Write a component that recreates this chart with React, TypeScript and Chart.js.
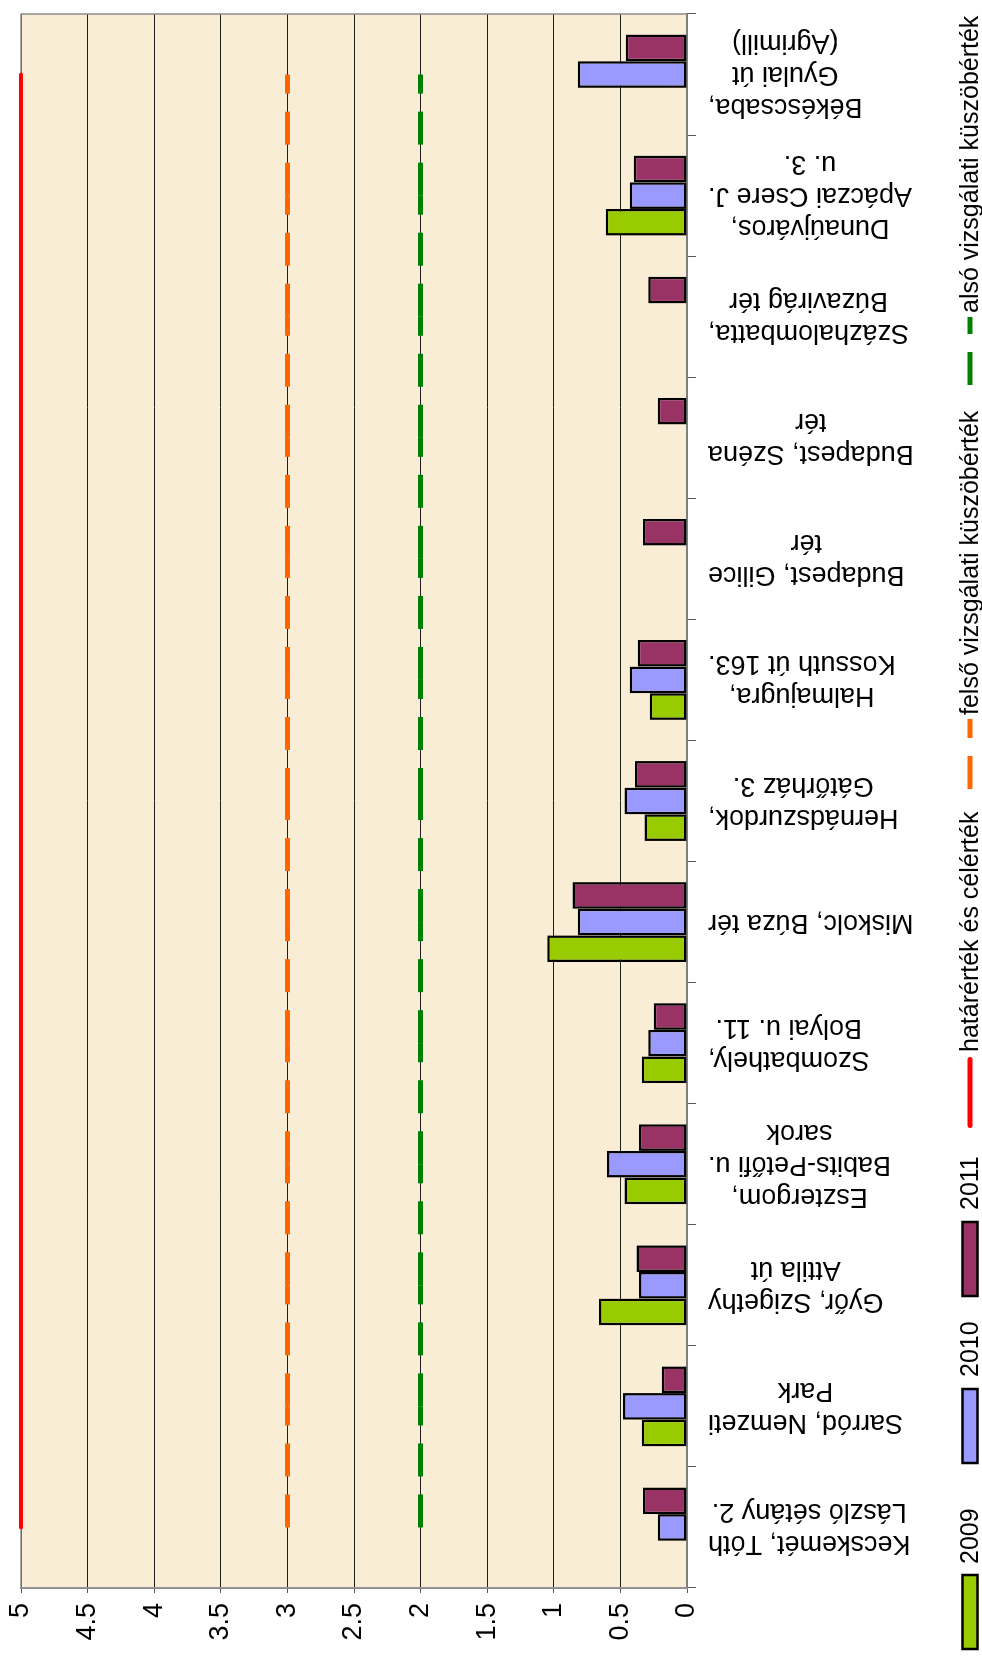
import React, { useEffect, useRef } from "react";
import { Chart, registerables } from "chart.js";

Chart.register(...registerables);

// ---- data ----
const categories: string[][] = [
  ["Kecskemét, Tóth", "László sétány 2."],
  ["Sarród, Nemzeti", "Park"],
  ["Győr, Szigethy", "Attila út"],
  ["Esztergom,", "Babits-Petőfi u.", "sarok"],
  ["Szombathely,", "Bolyai u. 11."],
  ["Miskolc, Búza tér"],
  ["Hernádszurdok,", "Gátőrház 3."],
  ["Halmajugra,", "Kossuth út 163."],
  ["Budapest, Gilice", "tér"],
  ["Budapest, Széna", "tér"],
  ["Százhalombatta,", "Búzavirág tér"],
  ["Dunaújváros,", "Apáczai Csere J.", "u. 3."],
  ["Békéscsaba,", "Gyulai út", "(Agrimill)"],
];

const series2009: (number | null)[] = [null, 0.34, 0.66, 0.47, 0.34, 1.05, 0.32, 0.28, null, null, null, 0.61, null];
const series2010: (number | null)[] = [0.22, 0.48, 0.36, 0.6, 0.29, 0.82, 0.47, 0.43, null, null, null, 0.43, 0.82];
const series2011: (number | null)[] = [0.33, 0.19, 0.38, 0.36, 0.25, 0.86, 0.39, 0.37, 0.33, 0.22, 0.29, 0.4, 0.46];

const limitValue: number[] = [5, 5, 5, 5, 5, 5, 5, 5, 5, 5, 5, 5, 5];
const upperThreshold: number[] = [3, 3, 3, 3, 3, 3, 3, 3, 3, 3, 3, 3, 3];
const lowerThreshold: number[] = [2, 2, 2, 2, 2, 2, 2, 2, 2, 2, 2, 2, 2];

const seriesNames: string[] = [
  "2009",
  "2010",
  "2011",
  "határérték és célérték",
  "felső vizsgálati küszöbérték",
  "alsó vizsgálati küszöbérték",
];

const valueMin = 0;
const valueMax = 5;
const valueStep = 0.5;

// ---- style ----
const W = 1663;
const H = 982;
const FONT = 'Arial, "Liberation Sans", sans-serif';

const plotDecor = {
  id: "plotDecor",
  beforeDraw(chart: any) {
    const { ctx, chartArea: a } = chart;
    ctx.save();
    ctx.fillStyle = "#ffffff";
    ctx.fillRect(0, 0, W, H);
    ctx.fillStyle = "#FAEDD6";
    ctx.fillRect(a.left, a.top, a.right - a.left, a.bottom - a.top);
    ctx.restore();
  },
  beforeDatasetsDraw(chart: any) {
    const { ctx, chartArea: a } = chart;
    ctx.save();
    ctx.strokeStyle = "#8c8c8c";
    ctx.lineWidth = 1.5;
    ctx.strokeRect(a.left, a.top, a.right - a.left, a.bottom - a.top);
    ctx.restore();
  },
  afterDraw(chart: any) {
    const { ctx } = chart;
    const xs = chart.scales.x;
    const labelStart = chart.chartArea.bottom + 21;
    // category labels (rotated, block aligned to axis, lines centred)
    ctx.save();
    ctx.font = `27px ${FONT}`;
    ctx.fillStyle = "#000";
    ctx.textAlign = "center";
    ctx.textBaseline = "middle";
    (chart.data.labels as string[][]).forEach((lines, i) => {
      const x = xs.getPixelForValue(i);
      const w = Math.max(...lines.map((l) => ctx.measureText(l).width));
      ctx.save();
      ctx.translate(x, labelStart + w / 2);
      ctx.rotate(-Math.PI / 2);
      lines.forEach((ln, k) => {
        ctx.fillText(ln, 0, (k - (lines.length - 1) / 2) * 32);
      });
      ctx.restore();
    });
    ctx.restore();

    // legend
    const items = [
      { x0: 14, x1: 88, tx: 99 },
      { x0: 200, x1: 274, tx: 286 },
      { x0: 367, x1: 441, tx: 453 },
      { x0: 535, x1: 606, tx: 611 },
      { x0: 874, x1: 944, tx: 948 },
      { x0: 1278, x1: 1346, tx: 1350 },
    ];
    const cy = 970;
    ctx.save();
    ctx.font = `25px ${FONT}`;
    ctx.fillStyle = "#000";
    ctx.textAlign = "left";
    ctx.textBaseline = "middle";
    chart.data.datasets.forEach((ds: any, i: number) => {
      const it = items[i];
      if (!it) return;
      if (ds.type === "bar") {
        ctx.fillStyle = ds.backgroundColor;
        ctx.fillRect(it.x0, cy - 7.5, it.x1 - it.x0, 15);
        ctx.strokeStyle = "#000";
        ctx.lineWidth = 2.5;
        ctx.strokeRect(it.x0, cy - 7.5, it.x1 - it.x0, 15);
      } else {
        ctx.save();
        ctx.strokeStyle = ds.borderColor;
        ctx.lineWidth = 5;
        ctx.lineCap = ds.borderDash ? "butt" : "round";
        ctx.setLineDash(ds.borderDash || []);
        ctx.beginPath();
        const pad = ds.borderDash ? 0 : 2.5;
        ctx.moveTo(it.x0 + pad, cy);
        ctx.lineTo(it.x1 - pad, cy);
        ctx.stroke();
        ctx.restore();
      }
      ctx.fillStyle = "#000";
      ctx.fillText(ds.label, it.tx, cy + 1);
    });
    ctx.restore();
  },
};

const restartDash = (c: any) => (c.p0DataIndex % 2 ? 0.0001 : 0);

const barStyle = {
  borderColor: "#000",
  borderWidth: 2.5,
  borderSkipped: false,
  categoryPercentage: 0.66,
  barPercentage: 1,
};

export default function App() {
  const ref = useRef<HTMLCanvasElement | null>(null);

  useEffect(() => {
    if (!ref.current) return;
    const chart = new Chart(ref.current, {
      type: "bar",
      data: {
        labels: categories as any,
        datasets: [
          { type: "bar", label: seriesNames[0], data: series2009, backgroundColor: "#99CC00", ...barStyle },
          { type: "bar", label: seriesNames[1], data: series2010, backgroundColor: "#9999FF", ...barStyle },
          { type: "bar", label: seriesNames[2], data: series2011, backgroundColor: "#993366", ...barStyle },
          {
            type: "line",
            label: seriesNames[3],
            data: limitValue,
            borderColor: "#FF0000",
            borderWidth: 4,
            borderCapStyle: "round",
            pointRadius: 0,
            fill: false,
            clip: false as any,
          },
          {
            type: "line",
            label: seriesNames[4],
            data: upperThreshold,
            borderColor: "#FF6600",
            borderWidth: 5,
            borderDash: [33, 18],
            borderCapStyle: "butt",
            pointRadius: 0,
            fill: false,
            segment: { borderDashOffset: restartDash },
          },
          {
            type: "line",
            label: seriesNames[5],
            data: lowerThreshold,
            borderColor: "#008000",
            borderWidth: 5,
            borderDash: [33, 18],
            borderCapStyle: "butt",
            pointRadius: 0,
            fill: false,
            segment: { borderDashOffset: restartDash },
          },
        ] as any,
      },
      options: {
        responsive: false,
        animation: false,
        devicePixelRatio: 1,
        layout: { padding: { top: 21, right: 14, left: 0, bottom: 0 } },
        plugins: {
          legend: { display: false },
          tooltip: { enabled: false },
        },
        scales: {
          x: {
            offset: true,
            grid: {
              display: true,
              drawOnChartArea: false,
              drawTicks: true,
              tickLength: 9,
              color: "#595959",
              offset: true,
            },
            border: { display: true, color: "#595959", width: 2 },
            ticks: { display: false },
            afterFit: (s: any) => {
              s.height = H - 687;
              s.paddingLeft = 0;
              s.paddingRight = 0;
            },
          },
          y: {
            min: valueMin,
            max: valueMax,
            ticks: {
              stepSize: valueStep,
              color: "#000",
              padding: 10,
              font: { family: FONT, size: 27 },
              callback: (v: any) => String(v),
            },
            grid: {
              color: "#1f1f1f",
              lineWidth: 1,
              tickLength: 5,
              tickColor: "#595959",
            },
            border: { display: true, color: "#8c8c8c", width: 1.5 },
            afterFit: (s: any) => {
              s.width = 75;
              s.paddingTop = 0;
              s.paddingBottom = 0;
            },
          },
        },
      } as any,
      plugins: [plotDecor],
    });
    return () => chart.destroy();
  }, []);

  return (
    <div
      style={{
        position: "absolute",
        left: 0,
        top: 0,
        width: 982,
        height: 1663,
        overflow: "hidden",
        background: "#fff",
      }}
    >
      <div
        style={{
          position: "absolute",
          left: 0,
          top: 0,
          width: W,
          height: H,
          transformOrigin: "0 0",
          transform: `translate(0px, ${W}px) rotate(-90deg)`,
        }}
      >
        <canvas ref={ref} width={W} height={H} style={{ display: "block", width: W, height: H }} />
      </div>
    </div>
  );
}
